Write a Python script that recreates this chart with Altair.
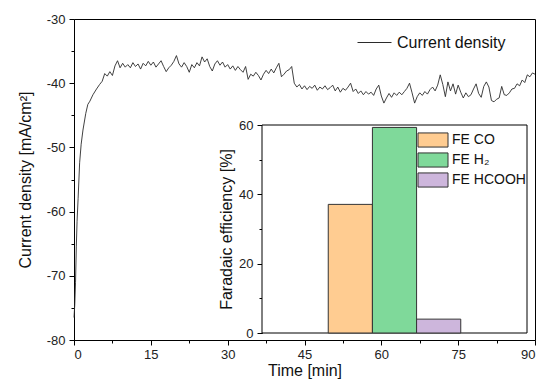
import altair as alt
import pandas as pd

# ---- data ----
time_min = [0.0, 0.15, 0.3, 0.45, 0.6, 0.8, 1.1, 1.4, 1.75, 2.3, 2.7, 3.1, 3.7, 4.4,
            5.0, 5.5, 6.0, 6.5, 7.0, 7.5, 8.0, 8.5, 9.0, 9.5,
            10.0, 10.5, 11.0, 11.5, 12.0, 12.5, 13.0, 13.5, 14.0, 14.5,
            15.0, 15.5, 16.0, 16.5, 17.0, 17.5, 18.0, 18.5, 19.0, 19.5,
            20.0, 20.5, 21.0, 21.5, 22.0, 22.5, 23.0, 23.5, 24.0, 24.5,
            25.0, 25.5, 26.0, 26.5, 27.0, 27.5, 28.0, 28.5, 29.0, 29.5,
            30.0, 30.5, 31.0, 31.5, 32.0, 32.5, 33.0, 33.5, 34.0, 34.5,
            35.0, 35.5, 36.0, 36.5, 37.0, 37.5, 38.0, 38.5, 39.0, 39.5,
            40.0, 40.5, 41.0, 41.5, 42.0, 42.5, 43.0, 43.5, 44.0, 44.5,
            45.0, 45.5, 46.0, 46.5, 47.0, 47.5, 48.0, 48.5, 49.0, 49.5,
            50.0, 50.5, 51.0, 51.5, 52.0, 52.5, 53.0, 53.5, 54.0, 54.5,
            55.0, 55.5, 56.0, 56.5, 57.0, 57.5, 58.0, 58.5, 59.0, 59.5,
            60.0, 60.5, 61.0, 61.5, 62.0, 62.5, 63.0, 63.5, 64.0, 64.5,
            65.0, 65.5, 66.0, 66.5, 67.0, 67.5, 68.0, 68.5, 69.0, 69.5,
            70.0, 70.5, 71.0, 71.5, 72.0, 72.5, 73.0, 73.5, 74.0, 74.5,
            75.0, 75.5, 76.0, 76.5, 77.0, 77.5, 78.0, 78.5, 79.0, 79.5,
            80.0, 80.5, 81.0, 81.5, 82.0, 82.5, 83.0, 83.5, 84.0, 84.5,
            85.0, 85.5, 86.0, 86.5, 87.0, 87.5, 88.0, 88.5, 89.0, 89.5,
            90.0]

current_density = [-76.5, -74.5, -71.0, -65.5, -61.5, -58.0, -52.4, -49.5, -47.3, -44.7, -43.3, -42.8, -41.8, -40.9,
                   -40.2, -39.7, -38.5, -38.9, -38.2, -38.8, -37.3, -36.5, -37.6, -36.9,
                   -37.5, -37.1, -37.6, -36.8, -37.4, -37.0, -37.8, -36.9, -37.3, -36.6,
                   -37.2, -36.7, -37.5, -37.0, -36.5, -37.4, -38.2, -37.6, -37.2, -36.6,
                   -35.7, -37.0, -37.5, -36.8, -37.4, -38.3, -37.1, -37.6, -36.8, -37.3,
                   -35.9, -36.7, -36.2, -37.4, -38.1, -37.0, -36.5, -37.2, -36.7, -37.5,
                   -37.1, -37.8, -37.3, -38.0, -37.4, -37.9, -38.3, -37.4, -39.4, -38.6,
                   -38.9, -38.3, -38.8, -39.5, -38.6, -38.0, -38.5, -37.8, -38.4, -37.6,
                   -36.9, -39.0, -38.6, -38.1, -37.9, -37.4, -40.0, -40.6, -40.2, -40.9,
                   -40.4, -41.0, -40.5, -40.8, -40.3, -41.1, -40.6, -40.9, -40.4, -41.0,
                   -40.7, -40.3, -41.2, -40.6, -41.4, -40.8, -41.1, -40.6, -40.0, -41.3,
                   -40.9, -41.6, -41.2, -41.8, -41.3, -41.7, -41.4, -41.9, -40.9, -40.3,
                   -42.0, -43.1, -42.3, -41.6, -42.2, -41.5, -41.9, -41.4, -41.8, -41.3,
                   -40.8, -40.0, -41.5, -43.1, -42.1, -41.5, -41.9, -41.3, -41.7, -41.0,
                   -40.6, -41.2, -40.3, -38.7, -40.2, -42.1, -39.8, -41.2, -40.1, -41.7,
                   -40.3, -41.4, -42.3, -41.5, -42.1, -41.8, -40.9, -40.1, -41.6, -42.2,
                   -40.5, -39.8, -40.6, -42.7, -42.9, -42.5, -42.3, -40.5, -41.8, -41.9,
                   -41.5, -40.9, -40.8, -40.1, -40.4, -39.5, -39.9, -38.7, -39.0, -38.4,
                   -38.6]

series_name = ["Current density"]
fe_labels = ["FE CO", "FE H\u2082", "FE HCOOH"]
fe_values = [37.1, 59.3, 4.0]
fe_colors = ["#FFCC91", "#7FD99A", "#CDB6DC"]

x_ticks = [0, 7.5, 15, 22.5, 30, 37.5, 45, 52.5, 60, 67.5, 75, 82.5, 90]
y_ticks = [-80, -75, -70, -65, -60, -55, -50, -45, -40, -35, -30]
fe_ticks = [0, 10, 20, 30, 40, 50, 60]

# ---- layout constants (pixels) ----
FONT = "Liberation Sans"
W, H = 461, 321
IN_L, IN_R, IN_T, IN_B = 188, 453, 106, 314
STEP = (IN_R - IN_L) / 6.0
BAR_L, BAR_R = IN_L + 1.5 * STEP, IN_R - 1.5 * STEP

line_df = pd.DataFrame({"t": time_min, "j": current_density,
                        "s": series_name * len(time_min)})
bar_df = pd.DataFrame({"cat": fe_labels, "fe": fe_values})
frame_df = pd.DataFrame({"k": [0]})

axis_common = dict(grid=False, domainColor="black", tickColor="black",
                   labelColor="#222", titleColor="#111",
                   labelFont=FONT, titleFont=FONT, titleFontWeight="normal",
                   labelOverlap=False)

line = alt.Chart(line_df).mark_line(strokeWidth=0.9).encode(
    x=alt.X("t:Q", scale=alt.Scale(domain=[0, 90], nice=False),
            axis=alt.Axis(values=x_ticks,
                          labelExpr="datum.value % 15 == 0 ? toString(datum.value) : ''",
                          tickSize={"condition": {"test": "datum.value % 15 == 0", "value": 5}, "value": 3},
                          labelFontSize=13, titleFontSize=16, labelPadding=3,
                          titlePadding=1, title="Time [min]", **axis_common)),
    y=alt.Y("j:Q", scale=alt.Scale(domain=[-80, -30], nice=False),
            axis=alt.Axis(values=y_ticks,
                          labelExpr="datum.value % 10 == 0 ? toString(datum.value) : ''",
                          tickSize={"condition": {"test": "datum.value % 10 == 0", "value": 5}, "value": 3},
                          labelFontSize=13, titleFontSize=16, labelPadding=4,
                          titlePadding=13, title="Current density [mA/cm\u00b2]", **axis_common)),
    stroke=alt.Stroke("s:N", scale=alt.Scale(domain=series_name, range=["#2b2b2b"]),
                      legend=alt.Legend(orient="none", legendX=283, legendY=6, title=None,
                                        symbolType="stroke", symbolSize=1156,
                                        symbolStrokeWidth=1, symbolStrokeColor="#555",
                                        labelFont=FONT, labelFontSize=16, labelColor="#111",
                                        labelOffset=5, padding=0)),
)

frame = alt.Chart(frame_df).mark_rect(fill="white", stroke="black", strokeWidth=1).encode(
    x=alt.value(IN_L), x2=alt.value(IN_R), y=alt.value(IN_T), y2=alt.value(IN_B)
)

bars = alt.Chart(bar_df).mark_bar(stroke="#333", strokeWidth=1).encode(
    x=alt.X("cat:N", sort=fe_labels,
            scale=alt.Scale(range=[BAR_L, BAR_R], paddingInner=0, paddingOuter=0),
            axis=alt.Axis(orient="bottom", offset=-(H - IN_B), labels=False, ticks=False,
                          title=None, domain=False, grid=False)),
    y=alt.Y("fe:Q", scale=alt.Scale(domain=[0, 60], range=[IN_B, IN_T], nice=False),
            axis=alt.Axis(orient="left", offset=-IN_L, values=fe_ticks,
                          labelExpr="datum.value % 20 == 0 ? toString(datum.value) : ''",
                          tickSize={"condition": {"test": "datum.value % 20 == 0", "value": 5}, "value": 3},
                          labelFontSize=13, titleFontSize=16, labelPadding=4,
                          titlePadding=4, title="Faradaic efficiency [%]", **axis_common)),
    fill=alt.Fill("cat:N", sort=fe_labels,
                  scale=alt.Scale(domain=fe_labels, range=fe_colors),
                  legend=alt.Legend(orient="none", legendX=351, legendY=113, title=None,
                                    symbolType="M-2,-0.94H2V0.94H-2Z", symbolSize=225,
                                    symbolStrokeColor="#333", symbolStrokeWidth=1,
                                    symbolOpacity=1,
                                    labelFont=FONT, labelFontSize=14, labelColor="#111",
                                    labelOffset=11, rowPadding=0, padding=0)),
)

chart = alt.layer(line, frame, bars).resolve_scale(
    x="independent", y="independent"
).resolve_axis(
    x="independent", y="independent"
).properties(
    width=W, height=H,
    autosize=alt.AutoSizeParams(type="none"),
    padding={"left": 66, "top": 11, "right": 7, "bottom": 40},
).configure_view(stroke="black", strokeWidth=1)

chart.save("out.html", embed_options={"renderer": "svg", "actions": False})
